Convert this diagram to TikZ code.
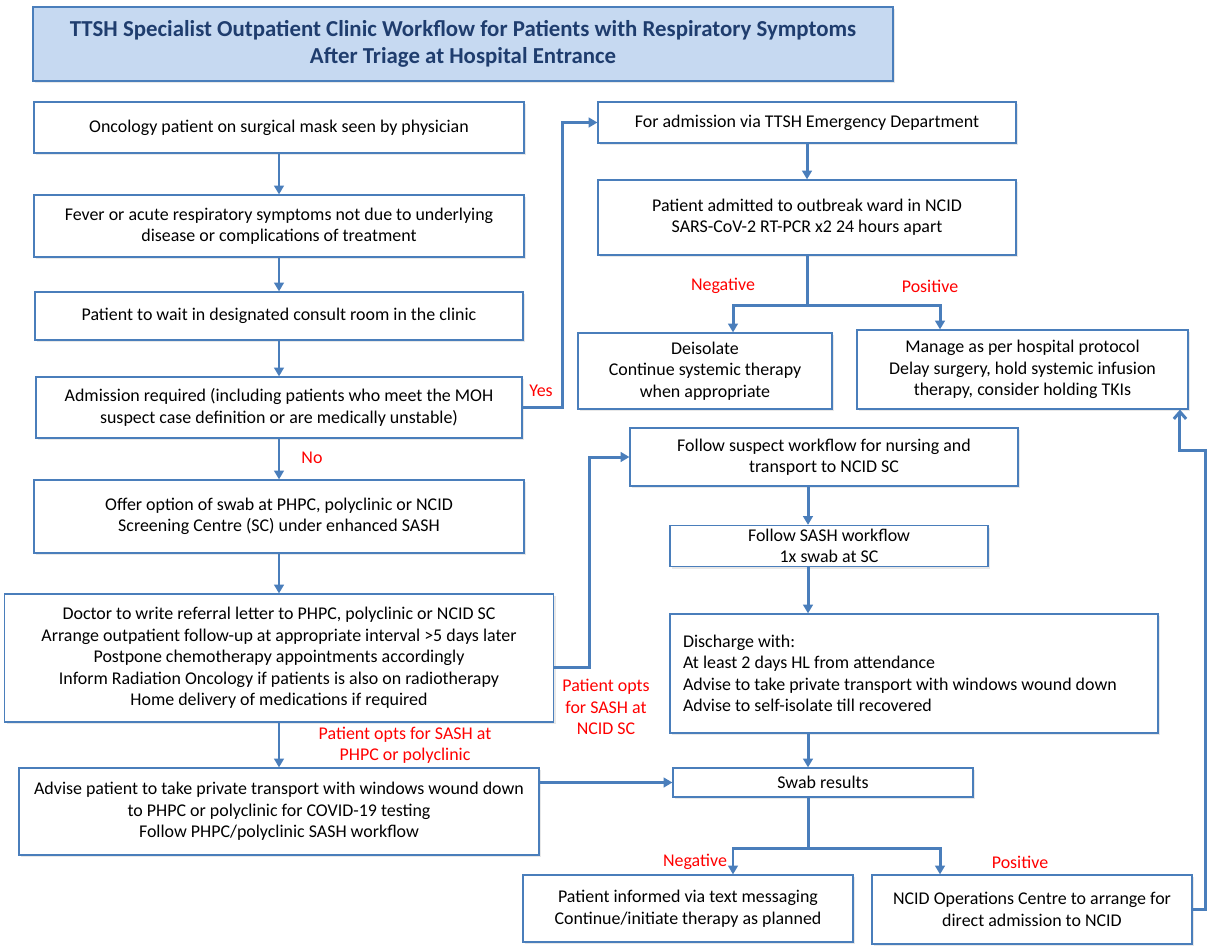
\documentclass[tikz,border=0pt]{standalone}
\usepackage{fontspec}
\setmainfont{Carlito}
\usetikzlibrary{arrows.meta,positioning,shadows}

\definecolor{flowblue}{HTML}{4A7EBB}
\definecolor{ttlfill}{HTML}{C6D9F1}
\definecolor{ttltext}{HTML}{1F3D6E}
\definecolor{lblred}{HTML}{FF0000}

\begin{document}
\begin{tikzpicture}[
  x=0.02cm, y=-0.02cm,
  font=\fontsize{10.2}{12.2}\selectfont,
  box/.style={draw=flowblue, line width=0.7pt, fill=white, align=center, inner sep=2pt,
              drop shadow={opacity=0.18, shadow xshift=1.2pt, shadow yshift=-1.2pt}},
  titlebox/.style={box, fill=ttlfill, text=ttltext, line width=0.9pt,
                   font=\fontsize{13}{15.4}\selectfont\bfseries},
  arr/.style={draw=flowblue, line width=1.7pt, -{Triangle[length=5pt,width=5.5pt]}},
  arrB/.style={draw=flowblue, line width=1.7pt, -{Straight Barb[length=4pt,width=7pt]}},
  lbl/.style={text=lblred, align=center, inner sep=1pt}
]
\useasboundingbox (0,0) rectangle (1209,950);

% Title
\node[titlebox, minimum width=17.2cm, minimum height=1.48cm] (title) at (463,44)
  {TTSH Specialist Outpatient Clinic Workflow for Patients with Respiratory Symptoms\\
   After Triage at Hospital Entrance};

% Left column
\node[box, minimum width=9.8cm, minimum height=1.02cm] (seen) at (279,127.5)
  {Oncology patient on surgical mask seen by physician};
\node[box, minimum width=9.8cm, minimum height=1.24cm] (fever) at (279,226)
  {Fever or acute respiratory symptoms not due to underlying\\disease or complications of treatment};
\node[box, minimum width=9.76cm, minimum height=0.96cm] (wait) at (279,316)
  {Patient to wait in designated consult room in the clinic};
\node[box, minimum width=9.72cm, minimum height=1.22cm] (admit) at (279,407.5)
  {Admission required (including patients who meet the MOH\\suspect case definition or are medically unstable)};
\node[box, minimum width=9.8cm, minimum height=1.46cm] (offer) at (279,516.5)
  {Offer option of swab at PHPC, polyclinic or NCID\\Screening Centre (SC) under enhanced SASH};
\node[box, minimum width=10.98cm, minimum height=2.56cm] (referral) at (279,658)
  {Doctor to write referral letter to PHPC, polyclinic or NCID SC\\
   Arrange outpatient follow-up at appropriate interval >5 days later\\
   Postpone chemotherapy appointments accordingly\\
   Inform Radiation Oncology if patients is also on radiotherapy\\
   Home delivery of medications if required};
\node[box, minimum width=10.4cm, minimum height=1.74cm] (polyadv) at (279,811.5)
  {Advise patient to take private transport with windows wound down\\
   to PHPC or polyclinic for COVID-19 testing\\
   Follow PHPC/polyclinic SASH workflow};

% Right column
\node[box, minimum width=8.36cm, minimum height=0.82cm] (viaED) at (807,122.5)
  {For admission via TTSH Emergency Department};
\node[box, minimum width=8.36cm, minimum height=1.5cm] (ward) at (807,217.5)
  {Patient admitted to outbreak ward in NCID\\SARS-CoV-2 RT-PCR x2 24 hours apart};
\node[box, minimum width=5.08cm, minimum height=1.52cm] (deiso) at (705,371)
  {Deisolate\\Continue systemic therapy\\when appropriate};
\node[box, minimum width=6.62cm, minimum height=1.58cm] (manage) at (1022.5,369.5)
  {Manage as per hospital protocol\\Delay surgery, hold systemic infusion\\therapy, consider holding TKIs};
\node[box, minimum width=7.76cm, minimum height=1.16cm] (suspect) at (824,457)
  {Follow suspect workflow for nursing and\\transport to NCID SC};
\node[box, minimum width=6.36cm, minimum height=0.8cm] (sash) at (829,546)
  {Follow SASH workflow\\1x swab at SC};
\node[box, minimum width=9.76cm, minimum height=2.38cm, align=flush left, inner xsep=0.26cm,
      text width=9.24cm] (discharge) at (914,673.5)
  {Discharge with:\\
   At least 2 days HL from attendance\\
   Advise to take private transport with windows wound down\\
   Advise to self-isolate till recovered};
\node[box, minimum width=6.0cm, minimum height=0.58cm] (swab) at (823,782.5)
  {Swab results};
\node[box, minimum width=6.6cm, minimum height=1.34cm] (informed) at (688,908.5)
  {Patient informed via text messaging\\Continue/initiate therapy as planned};
\node[box, minimum width=6.4cm, minimum height=1.38cm] (opsctr) at (1032,909.5)
  {NCID Operations Centre to arrange for\\direct admission to NCID};

\coordinate (midR) at (808,0);
\coordinate (jog) at (1205,450);

% Arrows, left column
\draw[arr] (seen) -- (fever);
\draw[arr] (fever) -- (wait);
\draw[arr] (wait) -- (admit);
\draw[arr] (admit) -- (offer);
\draw[arr] (offer) -- (referral);
\draw[arr] (referral) -- (polyadv);

% Arrows, branches
\draw[arr] (admit.east) -- ++(40,0) |- (viaED.west);
\draw[arr] (viaED) -- (ward);
\draw[arr] (ward.south) -- ++(0,50) -| ([xshift=0.56cm]deiso.north);
\draw[arr] (ward.south) -- ++(0,50) -| ([xshift=-1.65cm]manage.north);
\draw[arr] ([yshift=-0.18cm]referral.east) -- ++(35,0) |- (suspect.west);
\draw[arr] (suspect.south -| midR) -- (sash.north -| midR);
\draw[arr] (sash.south -| midR) -- (discharge.north -| midR);
\draw[arr] (discharge.south -| midR) -- (swab.north -| midR);
\draw[arr] (polyadv.east |- swab.west) -- (swab.west);
\draw[arr] (swab.south -| midR) -- ++(0,51) -| ([xshift=0.9cm]informed.north);
\draw[arr] (swab.south -| midR) -- ++(0,51) -| ([xshift=-1.84cm]opsctr.north);
\draw[arrB] (opsctr.east) -| (jog) -| ([xshift=3.15cm]manage.south);

% Labels
\node[lbl] (yes) at (541,391) {Yes};
\node[lbl] (no) at (312,458) {No};
\node[lbl] (negA) at (723,286) {Negative};
\node[lbl] (posA) at (930,286) {Positive};
\node[lbl] (optsPoly) at (405,745) {Patient opts for SASH at\\PHPC or polyclinic};
\node[lbl] (optsNcid) at (606,707) {Patient opts\\for SASH at\\NCID SC};
\node[lbl] (negB) at (695,862) {Negative};
\node[lbl] (posB) at (1020,862) {Positive};
\end{tikzpicture}
\end{document}
